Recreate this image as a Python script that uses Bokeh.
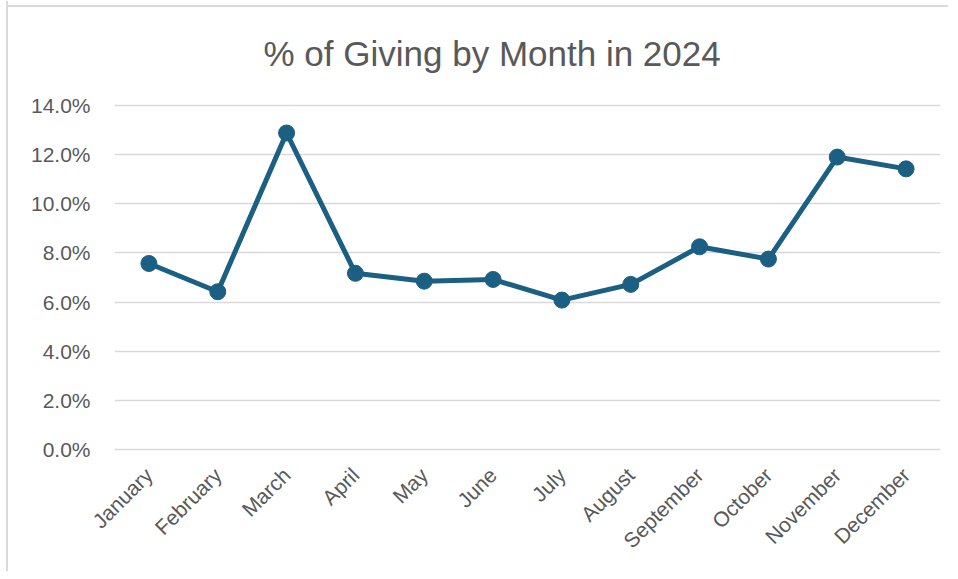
import math
from bokeh.plotting import figure
from bokeh.models import Range1d, NumeralTickFormatter, FixedTicker
from bokeh.embed import file_html
from bokeh.resources import INLINE

months = ["January", "February", "March", "April", "May", "June", "July",
          "August", "September", "October", "November", "December"]
share = [0.0757, 0.0642, 0.1288, 0.0717, 0.0685, 0.0692, 0.0608,
         0.0672, 0.0825, 0.0775, 0.1190, 0.1142]
y_ticks = [0.0, 0.02, 0.04, 0.06, 0.08, 0.10, 0.12, 0.14]

LINE = "#1b5f82"
TXT = "#595959"
FONT = "Liberation Sans"

p = figure(x_range=months, y_range=Range1d(-0.0008, 0.1408),
           width=942, height=570, output_backend="svg", toolbar_location=None,
           min_border_left=106, min_border_right=10, min_border_top=102,
           min_border_bottom=120, title="% of Giving by Month in 2024")

p.title.text_font = FONT
p.title.text_font_size = "35px"
p.title.text_font_style = "normal"
p.title.text_color = TXT
p.title.align = "left"
p.title.offset = 149
p.title.standoff = 61

p.outline_line_color = None
p.border_fill_color = None
p.styles = {"border-left": "2px solid #d9d9d9",
            "margin-left": "6px", "margin-top": "1px",
            "background": "linear-gradient(#d9d9d9, #d9d9d9) 0 4px / 100% 2px no-repeat, #ffffff"}

p.line(months, share, line_color=LINE, line_width=5)
p.scatter(months, share, size=16, fill_color=LINE, line_color=LINE)

p.xgrid.grid_line_color = None
p.ygrid.grid_line_color = "#d9d9d9"
p.ygrid.grid_line_width = 1.5

p.yaxis.ticker = FixedTicker(ticks=y_ticks)
p.yaxis.formatter = NumeralTickFormatter(format="0.0%")

for ax in (p.xaxis, p.yaxis):
    ax.axis_line_color = None
    ax.major_tick_line_color = None
    ax.minor_tick_line_color = None
    ax.major_label_text_font = FONT
    ax.major_label_text_font_size = "21px"
    ax.major_label_text_color = TXT

p.yaxis.major_label_standoff = 18
p.xaxis.major_label_orientation = math.pi / 4
p.xaxis.major_label_standoff = 14

open("out.html", "w").write(file_html(p, INLINE))
